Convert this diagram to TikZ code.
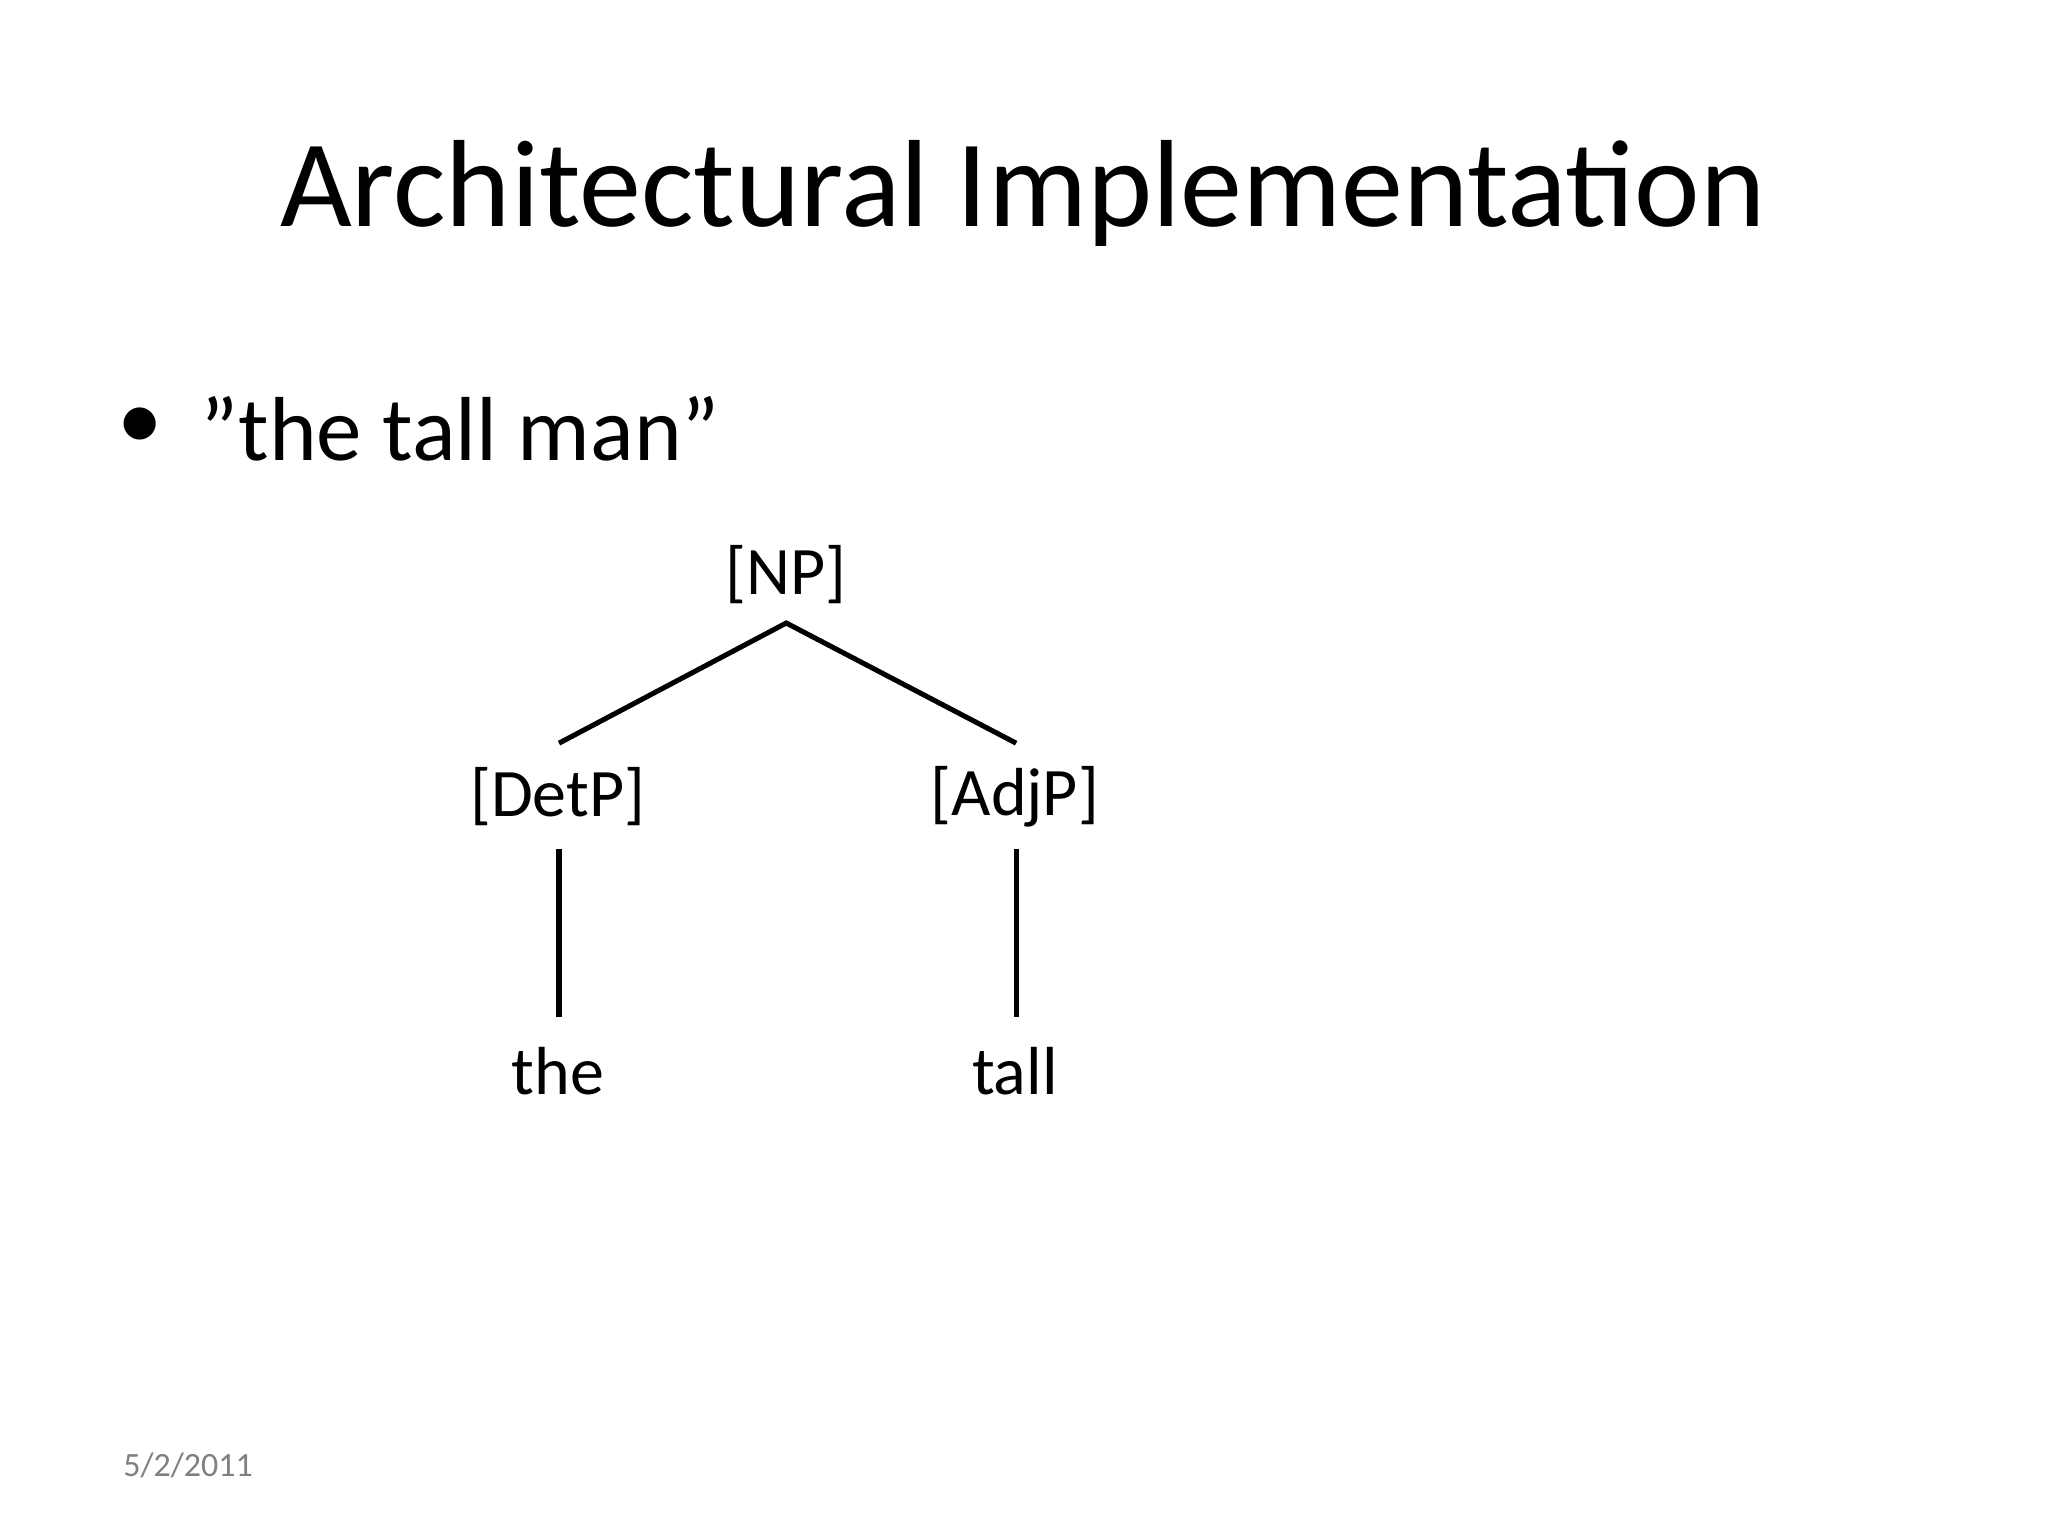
\documentclass[tikz,border=0pt]{standalone}
\usepackage{fontspec}
\setmainfont{Carlito}
\begin{document}
\begin{tikzpicture}[x=0.01cm,y=-0.01cm,
  lbl/.style={font=\fontsize{14.8}{17}\selectfont, inner sep=0pt},
  edge/.style={line width=1.1pt}]
\useasboundingbox (0,0) rectangle (1568,1176);
\node[font=\fontsize{27}{32}\selectfont] (title) at (783,148) {Architectural Implementation};
\node[font=\fontsize{19.8}{24}\selectfont] (bul) at (107,328) {\textbullet};
\node[font=\fontsize{19.8}{24}\selectfont, anchor=west, inner sep=0pt] (bt) at (153,328) {"the tall man"};
\node[lbl] (np) at (602,440) {[NP]};
\node[lbl] (det) at (427,610) {[DetP]};
\node[lbl] (adj) at (777,610) {[AdjP]};
\node[lbl] (the) at (427,820) {the};
\node[lbl] (tall) at (777,820) {tall};
\coordinate (top) at (602,477);
\coordinate (dl) at (428,569);
\coordinate (al) at (778,569);
\coordinate (d1) at (428,650);
\coordinate (d2) at (428,779);
\coordinate (a1) at (778,650);
\coordinate (a2) at (778,779);
\draw[edge] (dl) -- (top) -- (al);
\draw[edge] (d1) -- (d2);
\draw[edge] (a1) -- (a2);
\node[font=\fontsize{7.4}{9}\selectfont, text=gray] (date) at (144,1122) {5/2/2011};
\end{tikzpicture}
\end{document}
